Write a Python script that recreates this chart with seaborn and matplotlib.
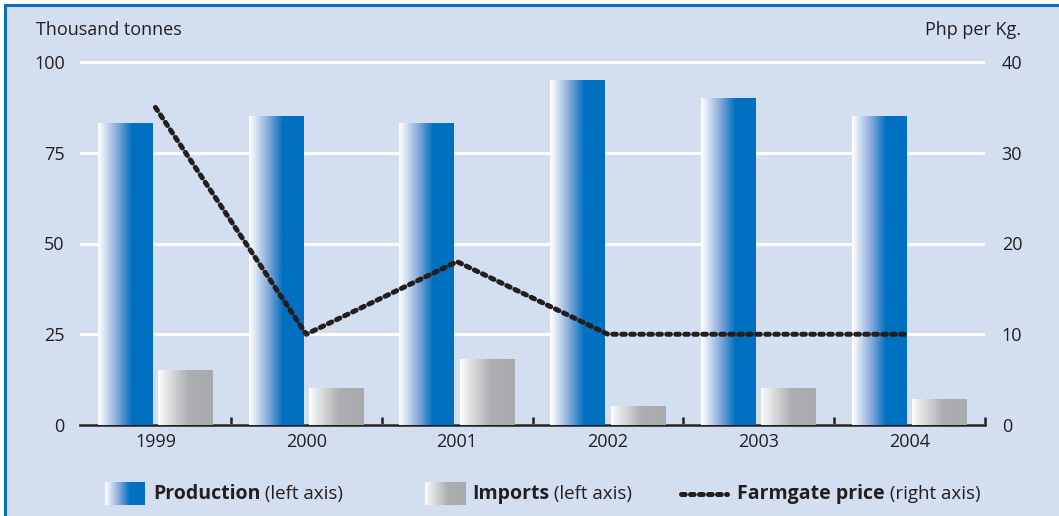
import numpy as np
import pandas as pd
import matplotlib
matplotlib.use('Agg')
import matplotlib.pyplot as plt
import seaborn as sns
from matplotlib.colors import LinearSegmentedColormap
from matplotlib.lines import Line2D
from matplotlib.patches import Rectangle

# ---------------- data ----------------
years = ['1999', '2000', '2001', '2002', '2003', '2004']
production = [83, 85, 83, 95, 90, 85]
imports = [15, 10, 18, 5, 10, 7]
farmgate_price = [35, 10, 18, 10, 10, 10]
left_ticks = [0, 25, 50, 75, 100]
right_ticks = [0, 10, 20, 30, 40]

# ---------------- style ----------------
W, H = 1059, 516
BG = '#D4DEF1'
TXT = '#231F20'
BLUE = '#0070C0'
GREY = '#A8AAAD'
FS = 13
LINE_KW = dict(color=TXT, lw=3.6, linestyle=(0, (0.75, 1.05)), dash_capstyle='round')

sns.set_theme(style='white')
plt.rcParams['font.family'] = ['Open Sans', 'DejaVu Sans']
plt.rcParams['text.color'] = TXT

blue_cm = LinearSegmentedColormap.from_list(
    'b', [(0, '#ffffff'), (0.07, '#eaf0fa'), (0.35, '#86aadb'), (0.62, BLUE), (1, BLUE)])
grey_cm = LinearSegmentedColormap.from_list(
    'g', [(0, '#ffffff'), (0.06, '#f2f3f3'), (0.55, '#adafb2'), (1, GREY)])
grad = np.linspace(0, 1, 256).reshape(1, -1)

fig = plt.figure(figsize=(W / 100, H / 100), dpi=100, facecolor='white')
fig.add_artist(Rectangle((5 / W, -0.1), 1.2, 1 - 4.5 / H + 0.1, transform=fig.transFigure,
                         facecolor=BG, edgecolor='#0A6EBD', lw=2.2, zorder=-10))

YTOP = 102
ax = fig.add_axes([80 / W, 1 - 425 / H, 905 / W, (363 * YTOP / 100) / H])
ax.set_facecolor('none')

df = pd.DataFrame({'year': years * 2,
                   'series': ['Production'] * 6 + ['Imports'] * 6,
                   'value': production + imports})
sns.barplot(data=df, x='year', y='value', hue='series', palette=[BLUE, GREY],
            width=0.8, gap=0.09, saturation=1, legend=False, ax=ax, zorder=3)

for i, p in enumerate(ax.patches):
    p.set_edgecolor('none')
    x, w, h = p.get_x(), p.get_width(), p.get_height()
    cm = blue_cm if i < len(years) else grey_cm
    ax.imshow(grad, extent=[x, x + w, 0, h], aspect='auto', cmap=cm,
              interpolation='bilinear', zorder=3.5)

ax.set_xlim(-0.5, len(years) - 0.5)
ax.set_ylim(0, YTOP)
ax.set_yticks(left_ticks)
ax.yaxis.grid(True, color='white', lw=2.2)
ax.set_axisbelow(True)
ax.xaxis.grid(False)
for s in ['left', 'right', 'top']:
    ax.spines[s].set_visible(False)
ax.spines['bottom'].set_color(TXT)
ax.spines['bottom'].set_linewidth(1.8)
ax.set_xlabel('')
ax.set_ylabel('')
ax.tick_params(axis='x', which='major', length=0, pad=6, labelsize=FS, labelcolor=TXT)
ax.set_xticks(np.arange(len(years)) + 0.5, minor=True)
ax.tick_params(axis='x', which='minor', direction='in', length=6, width=1.8, color=TXT, bottom=True)
ax.tick_params(axis='y', length=0, pad=11, labelsize=FS, labelcolor=TXT)

ax2 = ax.twinx()
sns.lineplot(x=np.arange(len(years)), y=farmgate_price, ax=ax2, zorder=5, **LINE_KW)
ax2.set_ylim(0, 40 * YTOP / 100)
ax2.set_yticks(right_ticks)
ax2.set_ylabel('')
ax2.grid(False)
for s in ax2.spines.values():
    s.set_visible(False)
ax2.tick_params(axis='y', length=0, pad=12, labelsize=FS, labelcolor=TXT)
ax.set_xlim(-0.5, len(years) - 0.5)

fig.text(36 / W, 1 - 30 / H, 'Thousand tonnes', ha='left', va='center', fontsize=FS)
fig.text(1021 / W, 1 - 30 / H, 'Php per Kg.', ha='right', va='center', fontsize=FS)

# ---------------- legend ----------------
LY = 494
def swatch(x0, cm):
    a = fig.add_axes([x0 / W, 1 - 505 / H, 40 / W, 23 / H])
    a.imshow(grad, aspect='auto', cmap=cm, interpolation='bilinear')
    a.axis('off')

def label(x0, bold, normal):
    t = fig.text(x0 / W, 1 - LY / H, bold, ha='left', va='center', fontsize=14, fontweight='bold')
    fig.add_artist(matplotlib.text.Annotation(' ' + normal, xy=(1, 0.5), xycoords=t,
                                              ha='left', va='center', fontsize=13.5))

swatch(105, blue_cm)
label(153, 'Production', '(left axis)')
swatch(425, grey_cm)
label(472, 'Imports', '(left axis)')
fig.add_artist(Line2D([681 / W, 727 / W], [1 - LY / H] * 2, transform=fig.transFigure, **LINE_KW))
label(737, 'Farmgate price', '(right axis)')

fig.savefig('out.png', dpi=100, facecolor=fig.get_facecolor())
